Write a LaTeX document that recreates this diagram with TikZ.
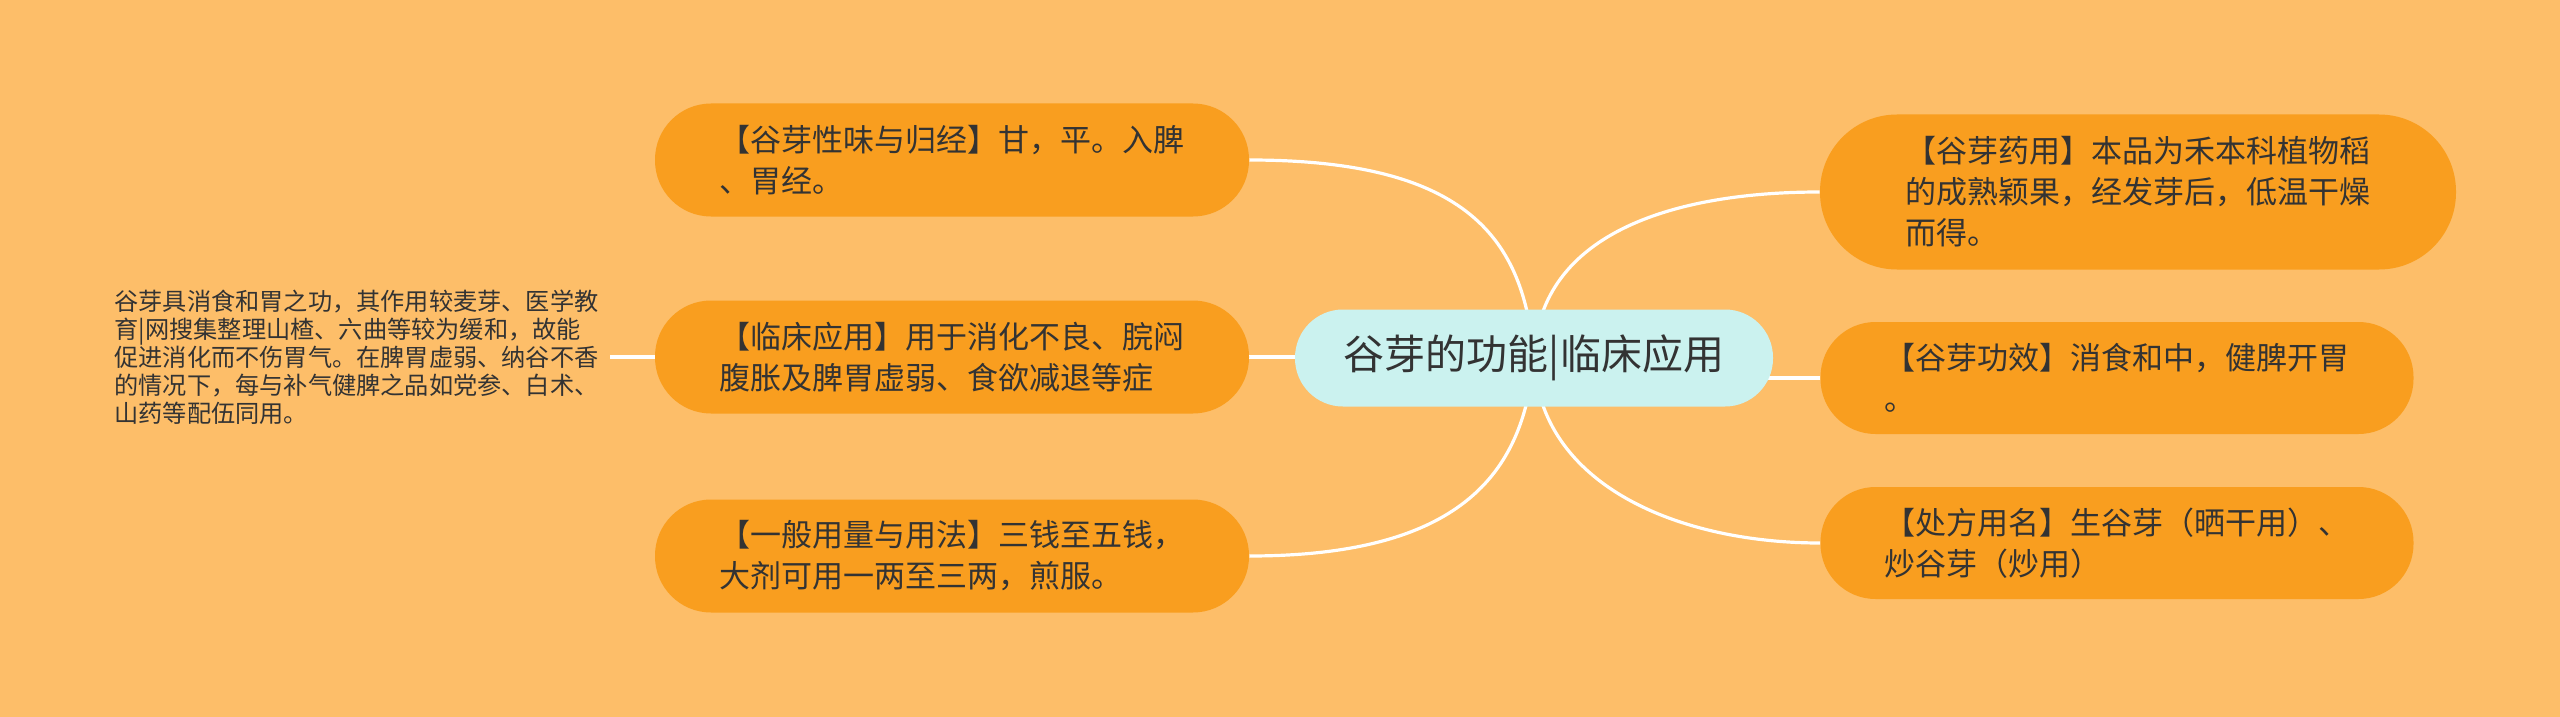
\documentclass[tikz,border=0pt]{standalone}
\usepackage{fontspec}
\setmainfont{Noto Sans CJK SC}
\usetikzlibrary{backgrounds}
\definecolor{bgc}{HTML}{FDBE69}
\definecolor{nodec}{HTML}{F99E1F}
\definecolor{cenc}{HTML}{CBF2EF}
\definecolor{txtc}{HTML}{333333}
\begin{document}
\begin{tikzpicture}[x=0.5pt,y=-0.5pt,
  branch/.style={rectangle, fill=nodec, rounded corners=28pt, minimum width=297pt,
    minimum height=56.5pt, inner sep=0pt, text=txtc,
    font=\fontsize{15.5pt}{20.5pt}\selectfont, align=left, text width=233pt},
  tallbranch/.style={branch, rounded corners=38.5pt, minimum width=318pt, minimum height=77.5pt},
  rbranch/.style={branch, rounded corners=27.5pt, minimum width=296.5pt, minimum height=56pt},
  cnode/.style={rectangle, fill=cenc, rounded corners=24pt, minimum width=239pt,
    minimum height=48.5pt, inner sep=0pt, text=txtc,
    font=\fontsize{20.5pt}{24pt}\selectfont},
  note/.style={inner xsep=4.5pt, inner ysep=0pt, text=txtc, align=left, text width=243pt,
    font=\fontsize{12.1pt}{14pt}\selectfont},
  conn/.style={draw=white, line width=1.6pt}]
\useasboundingbox (0,0) rectangle (2560,717);

\node[cnode] (cn) at (1534,358) {谷芽的功能|临床应用};

\node[branch] (ln1) at (952,160) {【谷芽性味与归经】甘，平。入脾\\、胃经。};
\node[branch] (ln2) at (952,357) {【临床应用】用于消化不良、脘闷\\腹胀及脾胃虚弱、食欲减退等症};
\node[branch] (ln3) at (952,556) {【一般用量与用法】三钱至五钱，\\大剂可用一两至三两，煎服。};

\node[tallbranch] (rn1) at (2138,192) {【谷芽药用】本品为禾本科植物稻\\的成熟颖果，经发芽后，低温干燥\\而得。};
\node[rbranch] (rn2) at (2117,378) {【谷芽功效】消食和中，健脾开胃\\。};
\node[rbranch] (rn3) at (2117,543) {【处方用名】生谷芽（晒干用）、\\炒谷芽（炒用）};

\node[note] (lt) at (357.5,357.5) {谷芽具消食和胃之功，其作用较麦芽、医学教\\育|网搜集整理山楂、六曲等较为缓和，故能\\促进消化而不伤胃气。在脾胃虚弱、纳谷不香\\的情况下，每与补气健脾之品如党参、白术、\\山药等配伍同用。};

\begin{scope}[on background layer]
  \fill[bgc] (0,0) rectangle (2560,717);
  \draw[conn] (ln1.east) .. controls +(220,0) and +(-10,-118) .. (cn.center);
  \draw[conn] (ln3.east) .. controls +(220,0) and +(-10,108) .. (cn.center);
  \draw[conn] (rn1.west) .. controls +(-140,0) and +(5,-128) .. (cn.center);
  \draw[conn] (rn3.west) .. controls +(-140,0) and +(5,128) .. (cn.center);
  \draw[conn] (ln2.east) -- (ln2.east -| cn.center);
  \draw[conn] (rn2.west) -- (rn2.west -| cn.center);
  \draw[conn] (ln2.west) -- (ln2.west -| lt.east);
\end{scope}
\end{tikzpicture}
\end{document}
